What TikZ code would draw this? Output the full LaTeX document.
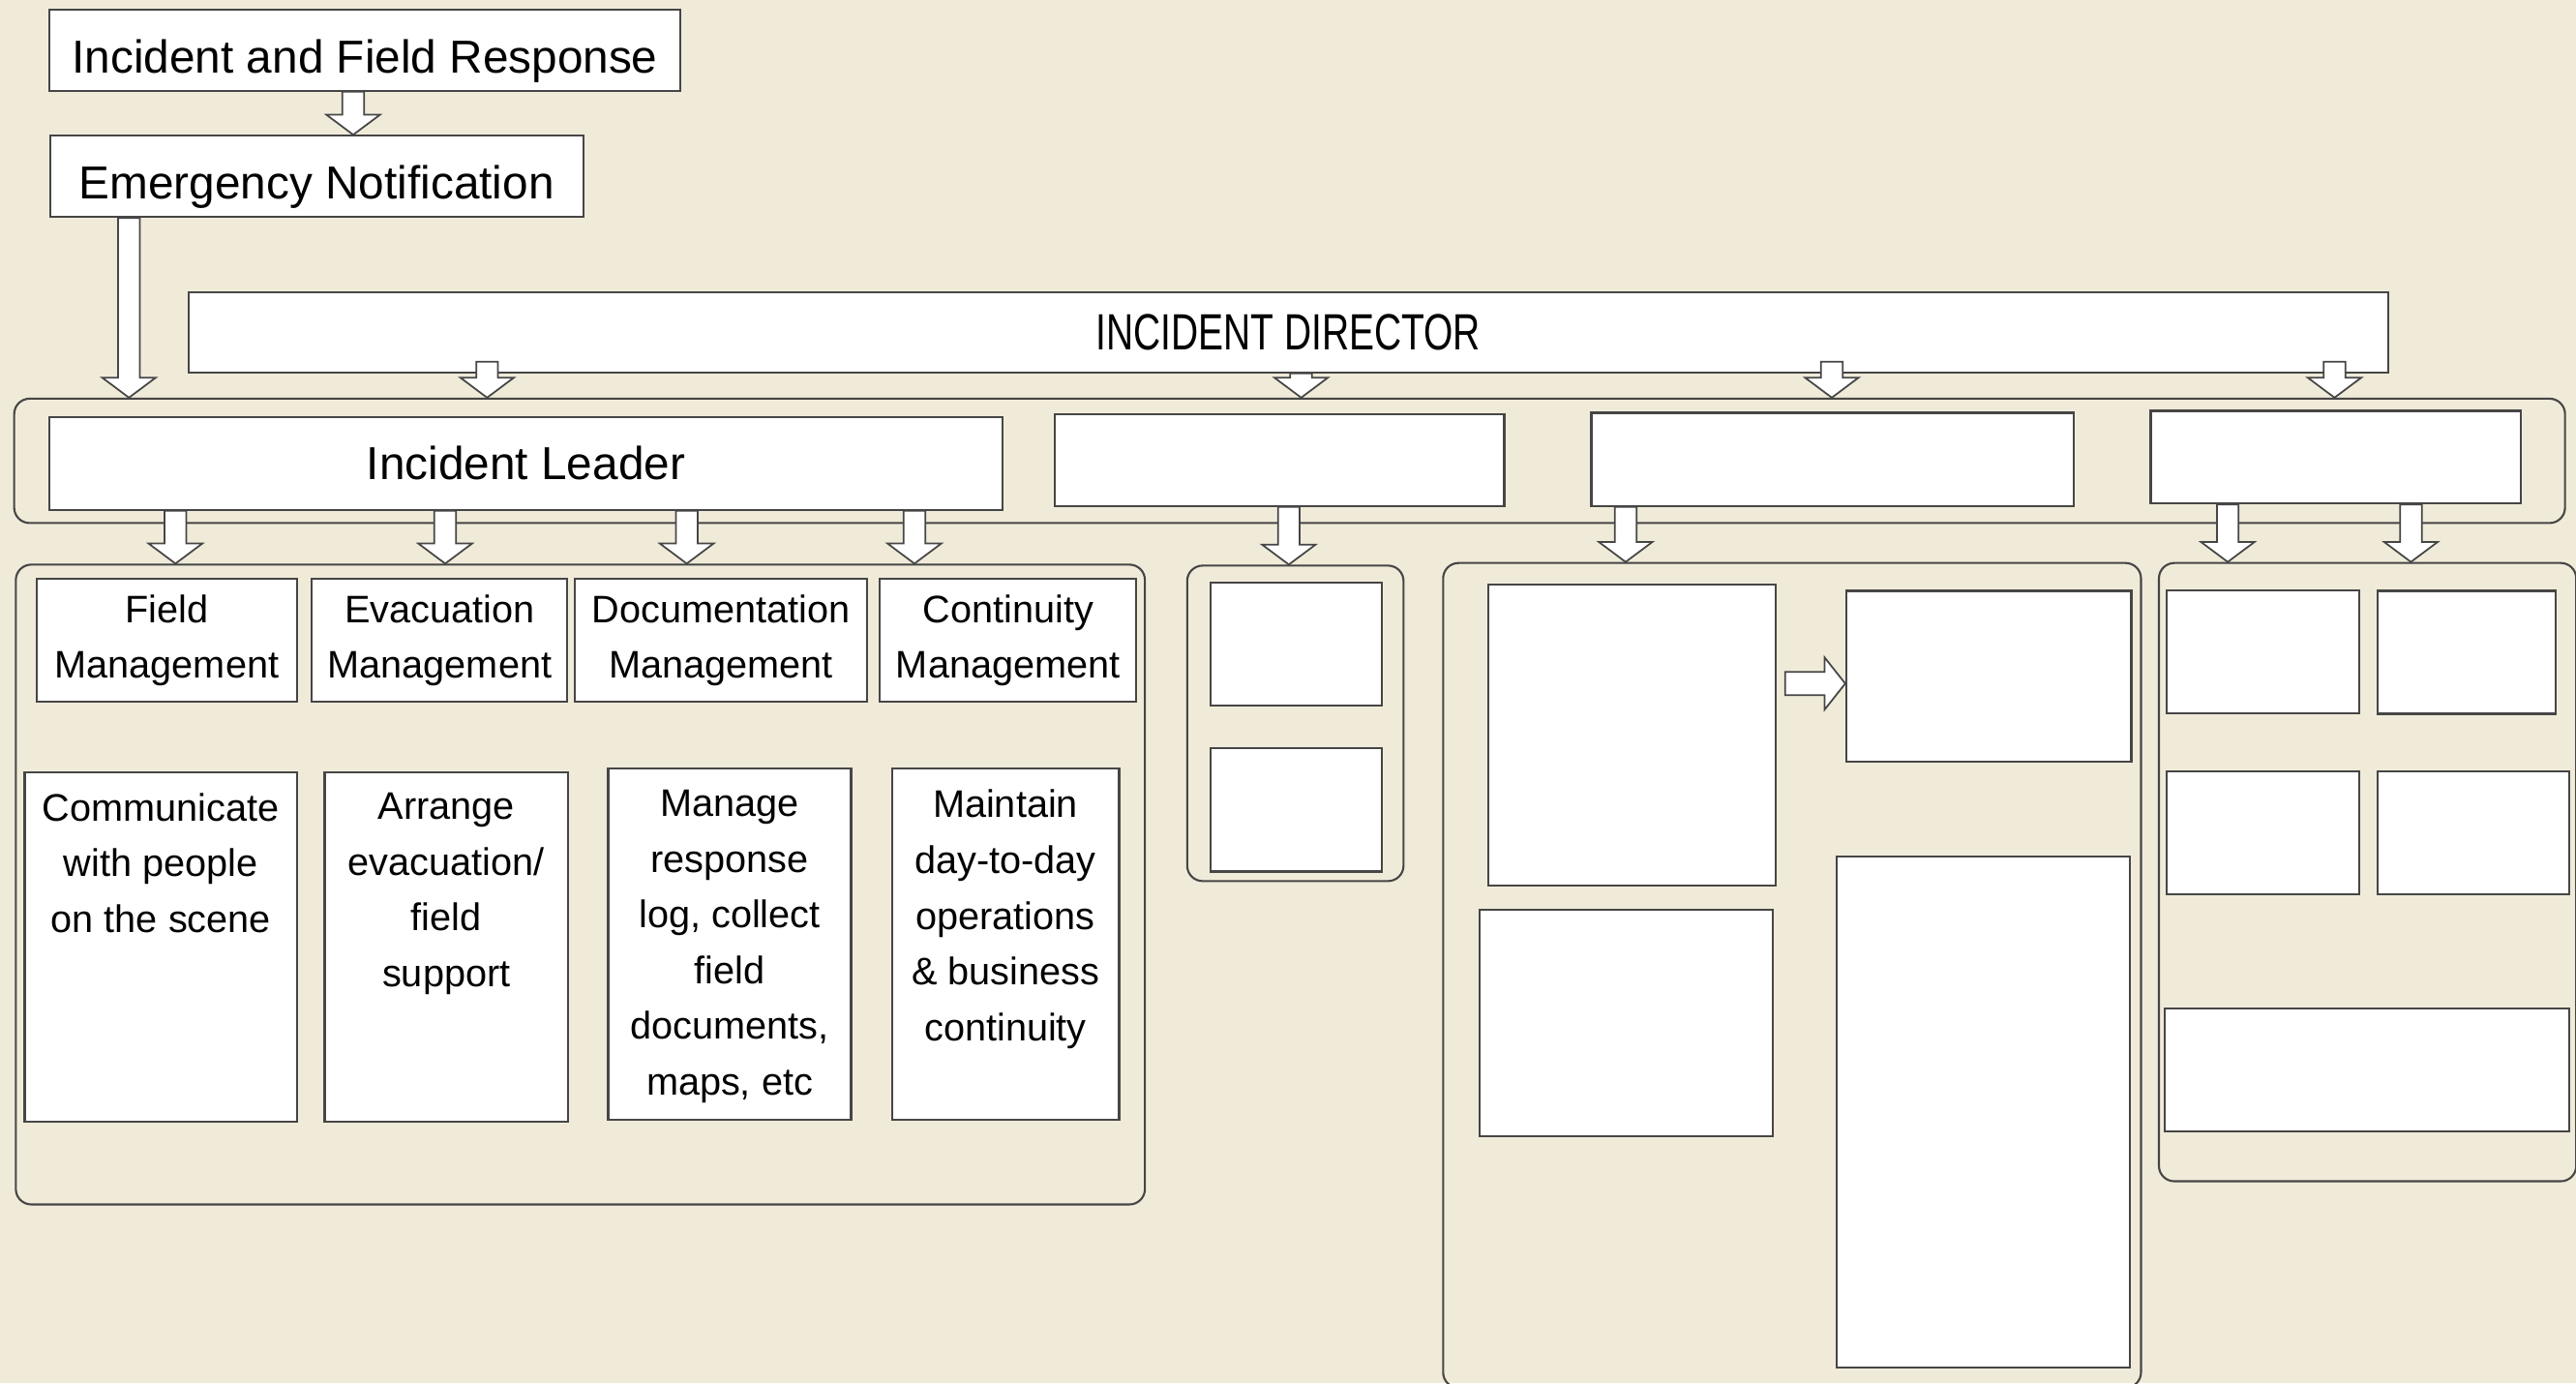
\documentclass[tikz,border=0pt]{standalone}
\usepackage{fontspec}
\setmainfont{Liberation Sans}
\newfontfamily\narrowcaps[FakeStretch=0.74]{Liberation Sans}
\usetikzlibrary{positioning,calc}

\definecolor{paper}{RGB}{240,235,217}
\definecolor{framegray}{RGB}{70,70,70}

\tikzset{
wh/.style 2 args={minimum width={#1*0.017cm}, minimum height={#2*0.017cm}}, % box size in grid units
box/.style={draw=framegray, fill=white, line width=0.6pt, inner sep=0pt, anchor=north west, align=center}, % plain white box
group/.style={draw=framegray, line width=0.6pt, rounded corners=0.16cm, anchor=north west}, % rounded frame round a set of boxes
fatarrow/.style={draw=framegray, fill=white, line width=0.5pt, line join=miter}, % hollow block arrows
headline/.style={font=\fontsize{13.6}{16}\selectfont},
bodytext/.style={font=\fontsize{11.3}{16.4}\selectfont, align=center, inner sep=0pt},
}

% hollow arrow pointing down: [start lift]{x}{from}{to}
\newcommand\blockdown[4][0pt]{%
  \draw[fatarrow] let \p1=(#2,0 |- #3), \p2=(#2,0 |- #4) in
    (\x1-3.2pt,\y1+#1) -- (\x1-3.2pt,\y2+5.9pt) -- (\x1-7.9pt,\y2+5.9pt) -- (\x2,\y2)
    -- (\x1+7.9pt,\y2+5.9pt) -- (\x1+3.2pt,\y2+5.9pt) -- (\x1+3.2pt,\y1+#1) -- cycle;}
% hollow arrow pointing right: [gap]{y}{from}{to}
\newcommand\blockright[4][0pt]{%
  \draw[fatarrow] let \p1=(#3 |- 0,#2), \p2=(#4 |- 0,#2) in
    (\x1+#1,\y1-3.4pt) -- (\x2-6.1pt,\y1-3.4pt) -- (\x2-6.1pt,\y1-7.7pt) -- (\x2,\y1)
    -- (\x2-6.1pt,\y1+7.7pt) -- (\x2-6.1pt,\y1+3.4pt) -- (\x1+#1,\y1+3.4pt) -- cycle;}

\begin{document}
\begin{tikzpicture}[x=0.017cm, y=-0.017cm]
\useasboundingbox (0,0) rectangle (1568,842);
\clip (0,0) rectangle (1568,842);
\fill[paper] (0,0) rectangle (1568,842);

% frames
\node[group, wh={1552.7}{75.7}] (rowtop) at (8,242) {};
\node[group, wh={687.3}{389.4}] (grpL) at (9,343) {};
\node[group, wh={131.7}{192}] (grpM) at (722,343.6) {};
\node[group, wh={424.8}{502}] (grpC) at (877.8,342) {};
\node[group, wh={254}{376.3}] (grpD) at (1313.5,342) {};

% top of the chain
\node[box, headline, text height=13.5pt, text depth=0pt, wh={384}{49.5}] (ifr) at (29.5,5) {Incident and Field Response};
\node[box, headline, text height=13.5pt, text depth=0pt, wh={324.3}{49.5}] (emn) at (30,82) {Emergency Notification};
\node[box, wh={1339}{49}, font=\narrowcaps\fontsize{15}{18}\selectfont] (idir) at (114,177) {INCIDENT DIRECTOR};

% leaders row
\node[box, headline, wh={580.5}{56.6}] (lead) at (29.3,253) {Incident Leader};
\node[box, wh={273.5}{55.9}] (b2) at (641.5,251.4) {};
\node[box, wh={293.6}{56.7}] (b3) at (968,250.6) {};
\node[box, wh={225.5}{56.4}] (b4) at (1308.5,249.4) {};

% incident leader teams
\node[box, bodytext, wh={158.7}{75}] (hfield) at (21.6,351.6) {Field\\Management};
\node[box, bodytext, wh={155.5}{75}] (hevac) at (189.3,351.6) {Evacuation\\Management};
\node[box, bodytext, wh={178}{75}] (hdoc) at (349.3,351.6) {Documentation\\Management};
\node[box, bodytext, wh={156}{75}] (hcont) at (535,351.6) {Continuity\\Management};

\node[box, wh={165.9}{213}] (tfield) at (14.4,469.3) {};
\node[box, wh={148.2}{213}] (tevac) at (197,469.3) {};
\node[box, wh={147.8}{213.4}] (tdoc) at (369.6,467.3) {};
\node[box, wh={138.4}{213.4}] (tcont) at (542.2,467.3) {};
\node[bodytext, below=6.3pt of tfield.north] (tfieldtxt) {Communicate\\with people\\on the scene};
\node[bodytext, below=6.3pt of tevac.north] (tevactxt) {Arrange\\evacuation/\\field\\support};
\node[bodytext, below=6.3pt of tdoc.north] (tdoctxt) {Manage\\response\\log, collect\\field\\documents,\\maps, etc};
\node[bodytext, below=6.3pt of tcont.north] (tconttxt) {Maintain\\day-to-day\\operations\\\& business\\continuity};

% empty boxes
\node[box, wh={104.3}{74.8}] (m1) at (736,353.8) {};
\node[box, wh={104.5}{74.9}] (m2) at (736.2,454.9) {};
\node[box, wh={174.9}{182.8}] (c1) at (905.5,355.4) {};
\node[box, wh={173.5}{104}] (c2) at (1123.2,359) {};
\node[box, wh={178.5}{138.3}] (c3) at (900.1,552.8) {};
\node[box, wh={178.5}{311.2}] (c4) at (1117.3,520.5) {};
\node[box, wh={117.5}{74.9}] (d1) at (1318,358.5) {};
\node[box, wh={108.3}{74.8}] (d2) at (1446.5,359) {};
\node[box, wh={117.5}{74.8}] (d3) at (1318,468.9) {};
\node[box, wh={117}{74.8}] (d4) at (1446.5,468.9) {};
\node[box, wh={246.5}{75}] (d5) at (1317,613) {};

% arrows
\blockdown{215}{ifr.south}{emn.north}
\blockdown{78.5}{emn.south}{rowtop.north}
\blockdown[3.4pt]{296.5}{idir.south}{rowtop.north}
\blockdown{792}{idir.south}{rowtop.north}
\blockdown[3.4pt]{1115}{idir.south}{rowtop.north}
\blockdown[3.4pt]{1421}{idir.south}{rowtop.north}
\foreach \col in {106.8,271,418,556.6}
  \blockdown{\col}{lead.south}{grpL.north};
\blockdown{784.5}{b2.south}{grpM.north}
\blockdown{989.5}{b3.south}{grpC.north}
\blockdown{1356}{b4.south}{grpD.north}
\blockdown{1467.5}{b4.south}{grpD.north}
\blockright[2.4pt]{416}{c1.east}{c2.west}

\end{tikzpicture}
\end{document}
